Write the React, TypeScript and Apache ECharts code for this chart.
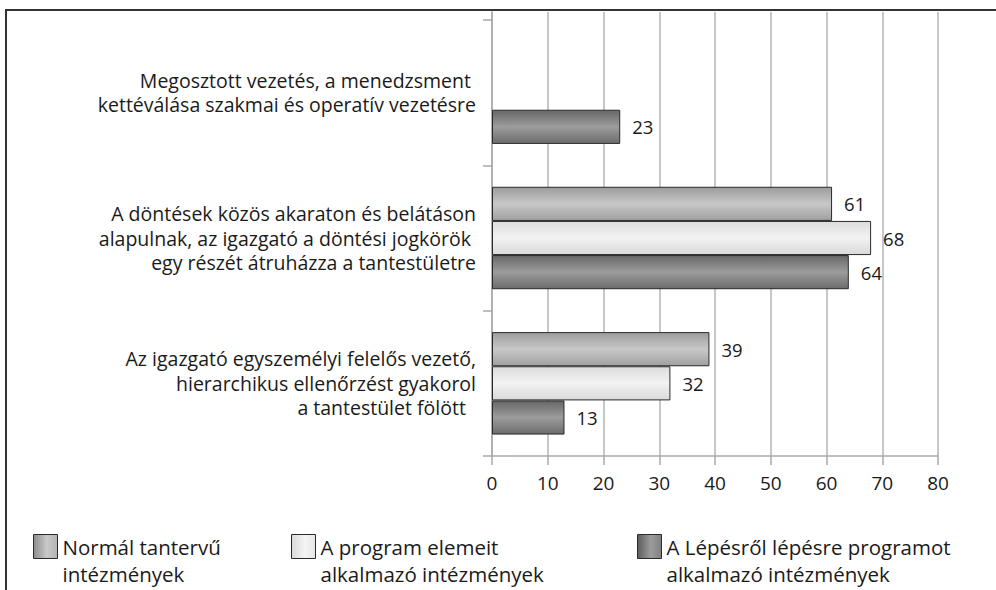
import React, { useEffect, useRef } from "react";
import * as echarts from "echarts";

// Categories listed bottom -> top (ECharts category axis starts at the bottom)
const categories = [
  "Az igazgató egyszemélyi felelős vezető,\nhierarchikus ellenőrzést gyakorol\na tantestület fölött  ",
  "A döntések közös akaraton és belátáson\nalapulnak, az igazgató a döntési jogkörök \negy részét átruházza a tantestületre",
  "Megosztott vezetés, a menedzsment \nkettéválása szakmai és operatív vezetésre",
];
const seriesNames = [
  "Normál tantervű\nintézmények",
  "A program elemeit\nalkalmazó intézmények",
  "A Lépésről lépésre programot\nalkalmazó intézmények",
];
const normalValues = [39, 61, null];
const programValues = [32, 68, null];
const lepesValues = [13, 64, 23];
const xTicks = [0, 10, 20, 30, 40, 50, 60, 70, 80];

const FONT = "'Open Sans', 'DejaVu Sans', sans-serif";

const vGrad = (a: string, b: string, c: string) =>
  new echarts.graphic.LinearGradient(0, 0, 0, 1, [
    { offset: 0, color: a },
    { offset: 0.5, color: b },
    { offset: 1, color: c },
  ]);
const hGrad = (a: string, b: string, c: string) =>
  new echarts.graphic.LinearGradient(0, 0, 1, 0, [
    { offset: 0, color: a },
    { offset: 0.55, color: b },
    { offset: 1, color: c },
  ]);

const barColors = [
  ["#9c9c9c", "#c8c8c8", "#a0a0a0"],
  ["#dcdcdc", "#f2f2f2", "#dadada"],
  ["#676767", "#9c9c9c", "#6c6c6c"],
];
const iconColors = [
  ["#8c8c8c", "#c8c8c8", "#b4b4b4"],
  ["#d8d8d8", "#f4f4f4", "#e6e6e6"],
  ["#5c5c5c", "#9c9c9c", "#808080"],
];
const legendLefts = [33, 291, 637];

export default function App() {
  const ref = useRef<HTMLDivElement>(null);
  useEffect(() => {
    if (!ref.current) return;
    const chart = echarts.init(ref.current, null, { renderer: "svg" });
    const values = [normalValues, programValues, lepesValues];
    const option: any = {
      animation: false,
      backgroundColor: "#ffffff",
      grid: [
        { left: 492, right: 58, top: 20, bottom: 134, containLabel: false },
        { left: 492, right: 58, top: 12, height: 8, containLabel: false },
      ],
      xAxis: [
        {
          type: "value",
          gridIndex: 0,
          min: 0,
          max: 80,
          interval: 10,
          axisLine: { show: true, lineStyle: { color: "#a8a8a8", width: 1.5 } },
          axisTick: { show: true, length: 9, lineStyle: { color: "#a8a8a8", width: 1.5 } },
          splitLine: { show: true, lineStyle: { color: "#b4b4b4", width: 1.5 } },
          axisLabel: {
            margin: 17,
            fontSize: 19,
            color: "#1a1a1a",
            fontFamily: FONT,
            formatter: (v: number) => (xTicks.includes(v) ? String(v) : ""),
          },
        },
        {
          type: "value",
          gridIndex: 1,
          min: 0,
          max: 80,
          interval: 10,
          axisLine: { show: false },
          axisTick: { show: false },
          axisLabel: { show: false },
          splitLine: { show: true, lineStyle: { color: "#b4b4b4", width: 1.5 } },
        },
      ],
      yAxis: [
        {
          type: "category",
          gridIndex: 0,
          data: categories,
          axisLine: { show: true, lineStyle: { color: "#a8a8a8", width: 1.5 } },
          axisTick: { show: true, length: 9, lineStyle: { color: "#a8a8a8", width: 1.5 } },
          axisLabel: {
            margin: 16,
            fontSize: 19.5,
            lineHeight: 24.5,
            color: "#1a1a1a",
            fontFamily: FONT,
          },
        },
        {
          type: "category",
          gridIndex: 1,
          data: ["x"],
          axisLine: { show: true, lineStyle: { color: "#a8a8a8", width: 1.5 } },
          axisTick: { show: false },
          axisLabel: { show: false },
        },
      ],
      legend: seriesNames.map((name, i) => ({
        data: [name],
        left: legendLefts[i],
        top: 506,
        padding: 0,
        itemWidth: 24,
        itemHeight: 24,
        icon: "rect",
        selectedMode: false,
        formatter: (n: string) => "{p| }\n" + n,
        itemStyle: {
          color: hGrad(iconColors[i][0], iconColors[i][1], iconColors[i][2]),
          borderColor: "#2a2a2a",
          borderWidth: 1,
        },
        textStyle: {
          fontSize: 20.5,
          lineHeight: 27,
          color: "#1a1a1a",
          fontFamily: FONT,
          rich: { p: { fontSize: 20.5, lineHeight: 27, height: 27 } },
        },
      })),
      series: seriesNames.map((name, i) => ({
        name,
        type: "bar",
        xAxisIndex: 0,
        yAxisIndex: 0,
        data: values[i],
        barGap: "0%",
        barCategoryGap: "29.5%",
        itemStyle: {
          color: vGrad(barColors[i][0], barColors[i][1], barColors[i][2]),
          borderColor: "#2a2a2a",
          borderWidth: 1,
        },
        label: {
          show: true,
          position: "right",
          distance: 12,
          fontSize: 18.5,
          color: "#1a1a1a",
          fontFamily: FONT,
        },
      })),
      graphic: [
        {
          type: "polyline",
          shape: { points: [[6, 590], [6, 10], [996, 10]] },
          style: { stroke: "#333333", lineWidth: 2, fill: null },
          silent: true,
        },
      ],
    };
    chart.setOption(option);
    return () => chart.dispose();
  }, []);
  return (
    <div
      ref={ref}
      style={{ position: "absolute", left: 0, top: 0, width: 996, height: 590 }}
    />
  );
}
